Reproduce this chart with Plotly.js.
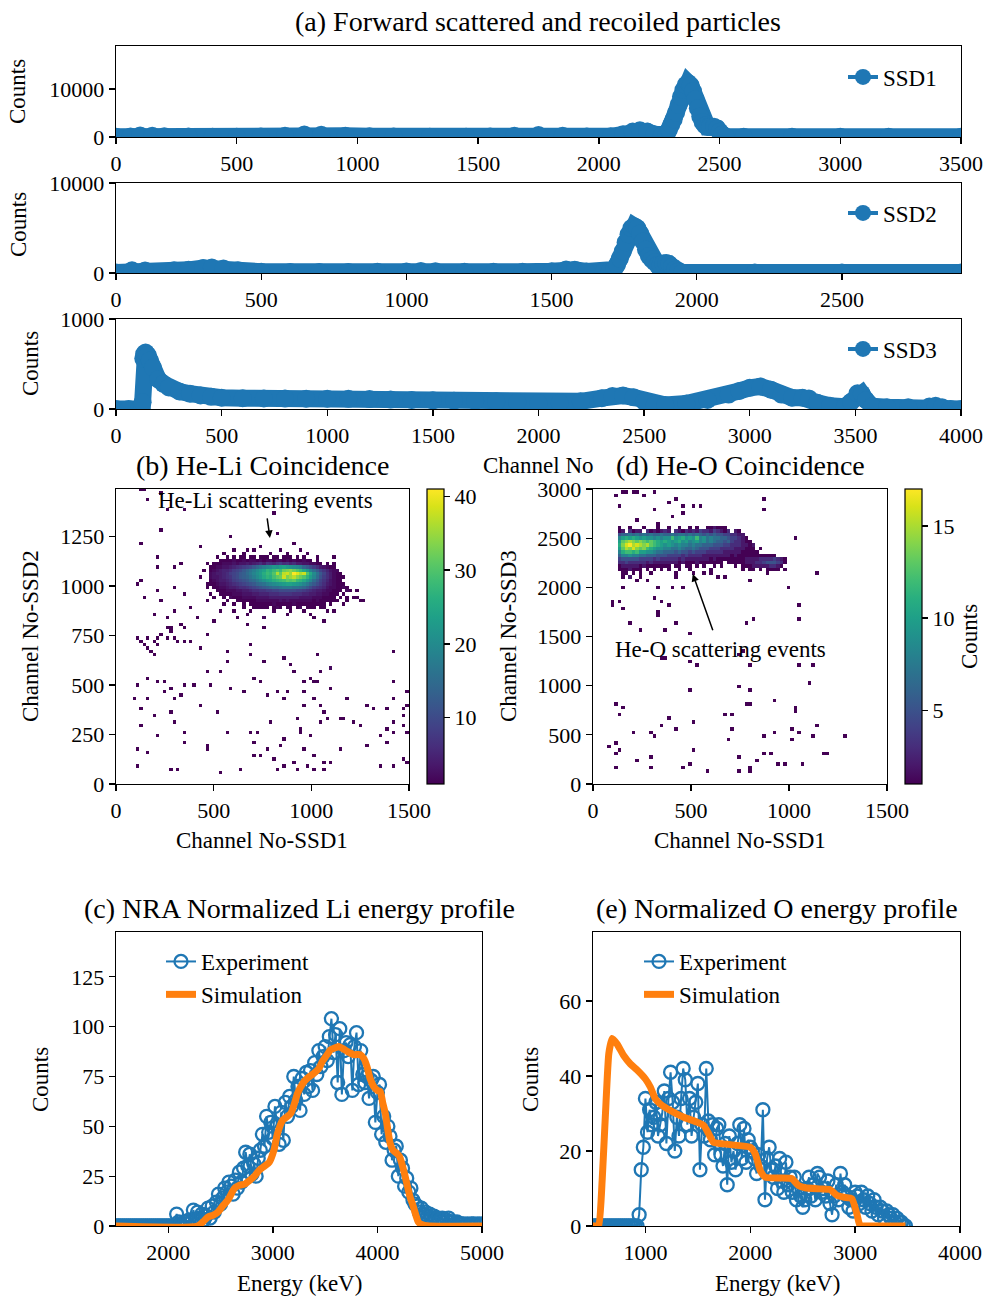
<!DOCTYPE html>
<html><head><meta charset="utf-8">
<script src="https://cdn.plot.ly/plotly-3.0.1.min.js"></script>
<style>body{margin:0;padding:0;background:#fff}#chart{width:990px;height:1296px}</style>
</head><body><div id="chart"></div>
<script>
// ---------- (a) spectra ----------
const ssd1Ch = [0,60,100,150,200,300,400,500,600,700,780,850,950,1050,1150,1300,1450,1550,1650,1750,1850,1950,2050,2100,2140,2170,2200,2230,2260,2280,2290,2300,2310,2320,2330,2340,2350,2360,2370,2380,2390,2400,2410,2420,2430,2440,2450,2460,2477,2490,2500,2510,2525,2600,2800,3000,3200,3500];
const ssd1Counts = [50,100,330,250,150,80,50,50,80,250,500,450,250,150,100,50,50,100,250,400,250,100,150,550,1150,1400,1150,550,250,500,1500,2600,3700,5100,6700,8400,9800,10900,11300,10800,9600,7900,6000,4300,3100,2400,2100,2100,2150,1800,1100,500,100,50,50,50,50,50];

const ssd2Ch = [0,40,55,100,200,250,300,330,370,420,500,600,700,800,900,1000,1050,1100,1200,1300,1400,1500,1550,1580,1620,1680,1700,1715,1725,1735,1745,1755,1765,1775,1785,1795,1805,1815,1825,1835,1845,1855,1865,1875,1885,1895,1905,1915,1925,1935,1950,2200,2500,2910];
const ssd2Counts = [50,50,300,280,300,350,550,600,500,300,150,100,110,110,130,180,230,200,150,130,150,200,400,350,170,150,170,400,900,1600,2400,3400,4300,5000,5200,5000,4400,3500,2600,1900,1500,1200,900,900,1050,1100,1000,700,350,150,50,50,50,50];

const ssd3Ch = [0,60,110,122,126,129,133,140,150,160,175,200,225,250,300,350,400,450,500,600,700,800,900,1000,1100,1200,1300,1400,1500,1600,1700,1800,1900,2000,2100,2200,2300,2350,2400,2450,2500,2550,2600,2700,2800,2900,2950,3000,3050,3100,3150,3200,3250,3280,3320,3380,3450,3480,3510,3530,3550,3580,3650,3750,3850,3880,3910,3950,4000];
const ssd3Counts = [0,0,0,0,75,560,610,627,600,540,460,330,280,240,195,170,150,135,125,120,118,116,115,115,113,110,105,100,96,93,90,85,75,64,68,85,120,145,150,130,85,50,45,60,100,160,200,235,250,215,160,125,125,118,70,35,25,80,175,170,100,30,20,20,27,35,20,0,0];

// ---------- (b) He-Li coincidence: dense cluster rows (bin 17 ch), top row y-bin 67, first column x-bin 28 ----------
const bBin = 17;
const bClusterTopRow = 67;
const bClusterFirstCol = 28;
const bClusterRows = [
[0,0,0,0,0,1,0,1,0,1,1,0,1,1,0,1,1,1,0,1,1,0,1,1,1,0,1,0,1,0,0,0,0,0,0,0,0,0,0,0,0,0],
[0,0,0,1,1,1,1,2,1,1,2,1,2,2,1,2,1,2,2,1,2,2,1,2,1,2,1,1,2,1,1,0,1,0,0,0,0,0,0,0,0,0],
[0,1,1,1,2,2,2,3,2,3,3,4,3,4,5,6,4,7,6,5,7,8,6,7,5,6,4,4,3,3,2,2,1,1,0,1,0,0,0,0,0,0],
[1,1,2,2,3,3,4,5,6,7,8,9,10,12,14,16,18,19,20,22,21,23,24,22,21,20,19,18,14,12,10,8,6,4,3,2,1,1,0,0,0,0],
[1,2,3,4,5,5,6,8,9,10,12,14,16,18,20,22,24,27,26,28,30,28,32,33,34,32,30,28,25,22,18,15,12,9,7,5,3,2,1,0,0,0],
[2,3,4,4,5,6,8,9,10,12,13,15,17,19,21,23,26,28,27,30,36,31,37,38,35,41,39,36,38,30,25,20,16,12,9,6,4,2,1,1,0,0],
[2,3,3,4,5,6,7,9,10,12,13,14,16,18,20,22,25,27,26,29,31,32,38,33,35,37,34,32,30,27,23,19,15,11,8,6,4,2,1,0,1,0],
[1,2,3,4,4,5,6,8,9,10,11,12,14,15,17,19,21,23,24,26,27,28,29,31,30,31,28,27,25,22,19,15,12,9,7,5,3,2,1,1,0,0],
[1,1,2,3,3,4,5,6,7,8,9,10,11,12,14,15,16,18,19,20,21,22,23,24,24,23,22,21,19,17,14,12,10,8,6,4,3,2,1,1,1,0],
[0,1,1,2,2,3,4,4,5,6,6,7,8,9,10,11,12,13,14,15,15,16,17,17,17,16,16,15,14,12,10,8,7,6,5,3,2,2,1,1,1,1],
[0,0,1,1,1,2,2,2,3,3,4,4,5,6,6,7,7,8,8,9,9,10,10,10,10,10,9,9,8,7,6,5,4,4,3,2,2,1,1,1,0,1],
[0,0,0,1,1,1,1,2,2,2,3,3,3,4,4,5,5,5,6,6,6,7,7,7,7,6,6,6,5,5,4,4,3,3,2,2,1,1,1,0,1,0],
[0,0,0,0,1,0,1,1,1,1,2,2,2,2,3,3,3,3,4,4,4,4,4,4,4,4,4,3,3,3,3,2,2,2,1,1,1,1,0,1,0,1],
[0,0,0,0,0,1,0,0,1,1,1,1,1,1,2,2,2,2,2,2,2,3,2,3,2,2,2,2,2,2,2,1,2,1,1,1,1,0,1,0,0,1],
[0,0,0,0,0,0,0,1,0,0,1,0,1,1,1,1,1,1,1,2,1,1,1,1,1,2,1,1,1,1,1,1,1,1,1,0,1,0,0,0,0,0],
[0,0,0,0,0,0,0,0,0,0,0,0,0,1,0,1,1,1,0,1,1,1,0,1,1,0,1,1,0,1,1,1,0,0,1,0,0,0,0,0,0,0]
];
// isolated events (channel SSD1, channel SSD2)
const bScatX = [127,148,161,229,263,340,234,127, 800,817,909,578,428,671,
217,216,297,331,110,127,144,212,294,345,234,297,187,263,272,323,374,416,467,501,532,586,628,671,756,764,671,
110,127,144,161,178,195,212,229,212,161,187,263,297,314,348,382,433,459,255,345,280,
569,696,696,574,535,459,756,858,892,909,1024,1104,1427,
85,110,153,161,212,246,238,280,297,340,331,391,433,484,578,650,713,739,781,832,858,875,963,994,1019,963,1007,1036,1053,1096,1180,1101,963,1045,1070,1079,1172,1313,1291,1418,1427,1495,1486,1384,
127,127,195,280,297,340,340,204,518,564,459,459,696,722,713,713,739,773,790,858,849,934,943,951,960,1002,1011,1053,1147,1155,1223,1257,1283,1350,1384,1418,1393,1427,1478,1486,1478,1469,
110,153,110,280,306,532,637,807,832,858,909,934,977,1011,1062,1070,1096,1350,1427,1478,1495,
1189,1215,1240,1249,1163,1113,875,1011,1062,764,943,1113,
560,610,650,700,735,790,845,880,940,985,1030,520,470,455,440,460,1120,1130,1150,1170,1200,1230,1260,1110,
560,600,650,690,730,800,830,900,960,1000,1050,1080,470,480,500];
const bScatY = [1482,1482,1443,1477,1384,1384,1278,1215, 1367,1266,1215,1257,1198,1185,
1139,1089,1089,1114,1013,1030,945,979,996,962,920,869,861,835,785,807,895,844,920,827,874,937,844,810,785,844,861,
743,726,709,692,675,658,743,760,709,743,726,743,743,726,717,717,692,760,785,793,768,
675,709,658,616,577,574,621,633,608,574,662,591,675,
439,498,540,439,523,523,473,481,439,506,456,498,397,498,481,473,540,515,456,473,439,473,523,540,523,473,430,515,565,489,439,582,392,405,363,338,338,388,405,439,515,473,405,388,
380,304,354,371,321,270,219,245,363,270,194,177,270,270,219,143,143,186,321,236,203,338,287,270,186,245,152,312,329,186,312,304,203,253,287,321,219,262,304,270,388,354,
186,169,101,68,84,54,84,127,68,93,110,84,101,68,110,68,110,101,101,127,110,
970,945,970,920,911,920,861,835,819,844,895,878,
1165,1180,1160,1175,1190,1170,1185,1160,1175,1165,1150,1150,1120,1080,1050,1010,1120,1080,1050,1000,985,950,930,1140,
905,880,890,870,885,875,895,870,880,860,890,870,1000,960,940];

// ---------- (d) He-O coincidence: cluster rows (bins 18 x 36 ch), top row y-bin 72, first column x-bin 7 ----------
const dBinX = 18, dBinY = 36;
const dClusterTopRow = 72;
const dClusterFirstCol = 7;
const dClusterRows = [
[1,0,0,1,0,0,0,1,0,0,0,1,0,0,1,0,0,1,0,0,1,0,1,0,0,1,1,2,1,1,1,0,0,0,0,0,0,0,0,0,0,0,0,0,0,0,0,0,0],
[1,2,0,3,1,2,2,0,3,1,2,1,2,3,2,0,3,2,1,3,2,3,2,4,3,3,2,4,3,2,1,2,0,1,1,0,0,0,0,0,0,0,0,0,0,0,0,0,0],
[5,6,6,7,6,7,6,7,6,7,6,6,7,6,6,7,6,7,7,6,7,6,7,6,5,6,5,6,5,5,4,4,3,3,2,1,0,0,0,0,0,0,0,0,0,0,0,0,0],
[8,10,11,10,11,10,9,10,9,9,8,9,8,9,9,12,9,10,11,9,10,9,12,8,9,7,8,7,7,6,6,5,4,4,3,2,1,0,0,0,0,0,0,0,0,0,0,0,0],
[10,13,14,15,14,13,14,13,12,13,12,11,10,11,10,9,10,11,9,10,8,9,10,8,9,7,8,7,6,6,5,5,4,3,3,2,1,1,0,0,0,0,0,0,0,0,0,0,0],
[11,14,16,17,15,16,15,14,15,13,12,11,10,9,10,9,8,9,8,8,7,8,7,7,6,6,6,5,5,5,4,4,3,3,3,2,2,1,1,0,0,0,0,0,0,0,0,0,0],
[10,13,15,14,16,14,13,14,12,11,10,9,9,8,8,7,7,8,7,6,6,7,6,5,5,5,4,4,4,3,3,3,3,2,2,2,1,1,1,0,0,0,0,0,0,0,0,0,0],
[8,11,12,12,11,12,10,10,9,9,8,7,7,6,6,6,5,6,5,5,4,5,4,4,4,3,3,3,3,3,2,2,2,2,2,1,1,1,1,1,0,0,0,0,0,0,0,0,0],
[6,8,8,9,8,8,7,7,6,6,6,5,5,5,4,4,4,4,3,4,3,3,3,3,2,2,2,2,2,2,2,2,1,2,1,1,1,1,1,1,1,1,1,1,1,0,0,0,0],
[4,5,5,5,5,5,4,4,4,4,3,4,3,3,3,3,3,2,3,2,2,2,2,2,2,2,1,2,1,1,1,1,1,1,1,1,2,2,2,2,3,3,3,3,4,3,2,1,0],
[3,3,4,3,3,3,3,3,2,3,2,2,2,2,2,2,2,1,2,1,1,1,2,1,1,1,1,1,1,1,0,1,1,1,1,1,2,2,2,3,3,4,5,5,5,4,3,1,0],
[1,2,2,2,2,2,1,2,1,1,1,1,1,1,1,0,1,1,0,1,1,0,1,0,1,0,0,1,0,1,0,0,0,1,0,1,1,1,2,2,2,2,2,3,3,2,1,0,0],
[1,1,1,1,1,1,1,0,1,0,1,0,1,0,1,0,0,1,0,0,1,0,0,0,0,0,1,0,0,0,0,0,0,0,0,1,0,1,1,0,1,0,1,1,1,1,0,1,0],
[0,1,1,0,1,0,1,0,0,1,0,0,0,0,0,0,1,0,0,0,0,0,0,0,0,0,0,0,0,0,0,0,0,0,0,0,0,0,0,0,0,0,0,0,0,0,0,0,0],
[0,1,0,1,0,0,0,0,0,0,0,0,0,0,0,0,0,0,0,0,0,0,0,0,0,0,0,0,0,0,0,0,0,0,0,0,0,0,0,0,0,0,0,0,0,0,0,0,0]
];
const dScatX = [114,148,173,199,224,262,310,128,306,386,429,454,505,548,412,459,233,879,879,1041,335,
156,182,224,276,327,412,454,97,97,131,145,310,352,395,327,335,190,250,369,429,488,777,820,1058,1058,
803,888,998,1151,667,633,565,514,
344,369,522,488,743,803,769,1058,1117,1100,488,743,803,777,803,709,667,922,1041,1032,1151,114,148,139,207,293,310,352,395,429,505,684,709,879,922,1015,1024,1058,1117,1279,
88,114,119,131,114,233,293,293,454,488,505,582,743,743,803,829,879,905,939,981,1075,1177,1202,803,
700,760,730,690,820,850,600,250,180,420];
const dScatY = [2939,2973,2973,2973,2956,2922,2956,2837,2793,2844,2888,2837,2837,2837,2718,2752,2684,2895,2776,2508,2643,
1988,2090,2073,2073,2005,2005,2005,1852,1801,1869,1767,1886,1852,1801,1716,1733,1631,1580,1580,1631,1546,1631,1665,1818,1665,
2073,2124,2005,2148,2107,2090,2141,2141,
1274,1274,1189,1257,1308,1223,1359,1223,1189,1036,951,1002,951,815,798,713,697,849,764,730,611,798,764,713,527,510,476,611,680,561,646,442,561,476,527,561,459,510,493,493,
374,425,289,340,170,221,255,170,170,204,340,129,279,136,170,221,306,289,204,204,204,289,323,119,
2560,2520,2590,2480,2420,2380,2150,2120,2160,2110];

// ---------- (c) Li energy profile ----------
const cExpStart = 1500, cExpStep = 20;
const cExpCounts = [
0,0,0,0,0,0,0,0,0,0, 0,0,0,0,0,0,0,0,0,0, 0,0,0,0,0,0,0,0,0,
6,2,1,0,2,1,3,2,8,3, 7,4,6,3,5,9,4,10,7,12, 16,11,14,19,17,22,20,16,23,19,
27,22,29,37,30,36,26,31,25,34, 38,46,40,55,47,52,44,60,50,41, 57,43,62,55,65,60,75,63,70,58,
74,66,77,70,78,68,82,76,88,80, 85,90,83,95,104,87,96,72,99,66, 88,92,85,91,68,90,97,71,88,76,
72,75,64,73,75,52,67,71,46,55, 42,50,45,33,38,40,25,33,29,20, 24,17,19,13,11,10,7,9,6,7,
5,6,4,5,3,4,3,4,2,3, 4,2,2,1,2,1,1, 1,0,1,0,1,1,0,1,0,1];
const cSimE = [1500,2280,2330,2380,2430,2475,2520,2570,2634,2680,2729,2780,2824,2870,2919,2966,3010,3045,3093,3140,3172,3210,3235,3299,3350,3394,3440,3473,3520,3552,3600,3631,3670,3711,3774,3837,3870,3900,3930,3964,4000,4027,4050,4075,4100,4122,4150,4186,4210,4233,4260,4281,4310,4344,4370,4391,4420,4450,4500,5000];
const cSimCounts = [0,0,2,4.5,5.5,7,10,13,19,20.5,21,23,25,28,30,32,38,46.5,53,55,56.5,62,66.4,72.5,75,76.7,79,82.5,86,88.4,89.5,90,89,87.6,86,86,84,80,74,70,68,67.5,62,56.5,48,41.4,38,36.4,35,31.4,26,21.3,15,9.6,5,2,0.8,0.3,0,0];

// ---------- (e) O energy profile ----------
const eExpStart = 500, eExpStep = 20;
const eExpCounts = [
0,0,0,0,0,0,0,0,0,0, 0,0,0,0,0,0,0,0,0,0, 0,0,
3,15,21,34,25,31,27,29,33,24, 27,30,36,22,34,41,33,20,29,24, 34,42,39,27,34,24,29,33,38,15,
27,24,42,28,23,27,19,26,27,19, 16,22,11,24,17,20,15,22,27,18, 26,17,23,21,20,18,14,19,16,31,
7,18,21,15,13,16,10,18,12,9, 17,11,13,9,13,7,10,8,5,7, 10,13,8,11,7,14,13,9,10,8,
12,6,3,8,11,7,14,9,11,8, 5,7,4,9,8,6,9,7,5,8, 6,4,7,5,3,5,4,2,4,3, 2,3,1,2,1,1,0,0];
const eSimE = [500,540,556,587,619,651,683,730,794,857,921,1000,1048,1095,1143,1238,1365,1492,1556,1603,1651,1746,1873,2000,2048,2095,2143,2286,2397,2460,2524,2667,2762,2825,2889,2968,3016,3048,3100,3480];
const eSimCounts = [0,0,0,12,30,46,50,48.5,45.4,43.2,41.6,39.2,37,33.9,32.5,30.8,29,27.7,26.8,24.6,22.3,21.9,21.5,21,19.2,14.8,13,12.8,12.6,10.8,10.2,9.9,9.7,8.2,7.7,7.3,3.3,0,0,0];

// ---------- tick values ----------
const a1XTicks = [0,500,1000,1500,2000,2500,3000,3500], a1YTicks = [0,10000];
const a2XTicks = [0,500,1000,1500,2000,2500], a2YTicks = [0,10000];
const a3XTicks = [0,500,1000,1500,2000,2500,3000,3500,4000], a3YTicks = [0,1000];
const bXTicks = [0,500,1000,1500], bYTicks = [0,250,500,750,1000,1250], bCbTicks = [10,20,30,40];
const dXTicks = [0,500,1000,1500], dYTicks = [0,500,1000,1500,2000,2500,3000], dCbTicks = [5,10,15];
const cXTicks = [2000,3000,4000,5000], cYTicks = [0,25,50,75,100,125];
const eXTicks = [1000,2000,3000,4000], eYTicks = [0,20,40,60];

// ================= build =================
const W = 990, H = 1296;
const FONT = 'Liberation Serif, Times New Roman, serif';
const BLUE = '#1f77b4', ORANGE = '#ff7f0e';
const fx = p => p / W, fy = p => 1 - p / H;

function axisBase(tickvals, range, anchor) {
  return {range, tickvals, anchor, showline:true, mirror:true, linecolor:'black', linewidth:1.3,
    ticks:'outside', ticklen:6, tickwidth:1.3, tickcolor:'black', showgrid:false, zeroline:false,
    tickformat:'d',
    tickfont:{family:FONT, size:22, color:'black'}, fixedrange:true};
}
function xax(l, r, range, tickvals, anchor) { return Object.assign(axisBase(tickvals, range, anchor), {domain:[fx(l), fx(r)]}); }
function yax(t, b, range, tickvals, anchor) { return Object.assign(axisBase(tickvals, range, anchor), {domain:[fy(b), fy(t)]}); }

function buildGrid(nx, ny, rows, topRow, firstCol, sx, sy, dx, dy) {
  const z = [];
  for (let j = 0; j < ny; j++) z.push(new Array(nx).fill(null));
  rows.forEach((row, r) => {
    const j = topRow - r;
    row.forEach((v, c) => { if (v > 0) z[j][firstCol + c] = v; });
  });
  sx.forEach((x, k) => {
    const i = Math.floor(x / dx), j = Math.floor(sy[k] / dy);
    if (i >= 0 && i < nx && j >= 0 && j < ny) z[j][i] = (z[j][i] || 0) + 1;
  });
  return z;
}

const bZ = buildGrid(Math.ceil(1500 / bBin), Math.ceil(1500 / bBin), bClusterRows, bClusterTopRow, bClusterFirstCol, bScatX, bScatY, bBin, bBin);
const dZ = buildGrid(Math.ceil(1500 / dBinX), Math.ceil(3000 / dBinY), dClusterRows, dClusterTopRow, dClusterFirstCol, dScatX, dScatY, dBinX, dBinY);

function spectrum(xs, ys, xa, ya) {
  return {type:'scatter', mode:'lines+markers', x:xs, y:ys, xaxis:xa, yaxis:ya,
    line:{color:BLUE, width:17}, marker:{color:BLUE, size:18}, showlegend:false, hoverinfo:'skip'};
}
function legendItem(name, xa, ya, lg) {
  return {type:'scatter', mode:'lines+markers', x:[null], y:[null], xaxis:xa, yaxis:ya, name,
    legend:lg, line:{color:BLUE, width:4}, marker:{color:BLUE, size:16}, hoverinfo:'skip'};
}

const cbCommon = {thickness:17, thicknessmode:'pixels', len:295 / H, lenmode:'fraction', y:fy(636.5), yanchor:'middle',
  xanchor:'left', outlinewidth:1.2, outlinecolor:'black', ticks:'outside', ticklen:6, tickwidth:1.3, tickcolor:'black',
  tickfont:{family:FONT, size:22, color:'black'}, xpad:0, ypad:0};

const traces = [
  spectrum(ssd1Ch, ssd1Counts, 'x', 'y'), legendItem('SSD1', 'x', 'y', 'legend'),
  spectrum(ssd2Ch, ssd2Counts, 'x2', 'y2'), legendItem('SSD2', 'x2', 'y2', 'legend2'),
  spectrum(ssd3Ch, ssd3Counts, 'x3', 'y3'), legendItem('SSD3', 'x3', 'y3', 'legend3'),
  {type:'heatmap', z:bZ, x0:bBin / 2, dx:bBin, y0:bBin / 2, dy:bBin, xaxis:'x4', yaxis:'y4',
    colorscale:'Viridis', zmin:1, zmax:41, zsmooth:false, hoverinfo:'skip',
    colorbar:Object.assign({}, cbCommon, {x:fx(427), tickvals:bCbTicks})},
  {type:'heatmap', z:dZ, x0:dBinX / 2, dx:dBinX, y0:dBinY / 2, dy:dBinY, xaxis:'x5', yaxis:'y5',
    colorscale:'Viridis', zmin:1, zmax:17, zsmooth:false, hoverinfo:'skip',
    colorbar:Object.assign({}, cbCommon, {x:fx(905), tickvals:dCbTicks,
      title:{text:'Counts', side:'right', font:{family:FONT, size:23, color:'black'}}})},
  {type:'scatter', mode:'lines+markers', x0:cExpStart, dx:cExpStep, y:cExpCounts, xaxis:'x6', yaxis:'y6', name:'Experiment', legend:'legend4',
    line:{color:BLUE, width:2}, marker:{symbol:'circle-open', size:13, color:BLUE, line:{width:2.3, color:BLUE}}, hoverinfo:'skip'},
  {type:'scatter', mode:'lines', x:cSimE, y:cSimCounts, xaxis:'x6', yaxis:'y6', name:'Simulation', legend:'legend4',
    line:{color:ORANGE, width:7, shape:'spline', smoothing:0.6}, hoverinfo:'skip'},
  {type:'scatter', mode:'lines+markers', x0:eExpStart, dx:eExpStep, y:eExpCounts, xaxis:'x7', yaxis:'y7', name:'Experiment', legend:'legend5',
    line:{color:BLUE, width:2}, marker:{symbol:'circle-open', size:13, color:BLUE, line:{width:2.3, color:BLUE}}, hoverinfo:'skip'},
  {type:'scatter', mode:'lines', x:eSimE, y:eSimCounts, xaxis:'x7', yaxis:'y7', name:'Simulation', legend:'legend5',
    line:{color:ORANGE, width:7, shape:'spline', smoothing:0.5}, hoverinfo:'skip'}
];

function ann(text, px, py, size, angle) {
  return {xref:'paper', yref:'paper', x:fx(px), y:fy(py), xanchor:'center', yanchor:'middle', text, showarrow:false,
    textangle:angle || 0, font:{family:FONT, size:size, color:'black'}};
}
const legendCommon = {bgcolor:'rgba(0,0,0,0)', borderwidth:0, font:{family:FONT, size:23, color:'black'}, xanchor:'left'};

const layout = {
  width:W, height:H, margin:{l:0, r:0, t:0, b:0}, paper_bgcolor:'white', plot_bgcolor:'white', hovermode:false,
  xaxis: xax(116, 961, [0, 3500], a1XTicks, 'y'),   yaxis: yax(46, 137, [0, 19000], a1YTicks, 'x'),
  xaxis2:xax(116, 961, [0, 2910], a2XTicks, 'y2'),  yaxis2:yax(183, 273, [0, 10000], a2YTicks, 'x2'),
  xaxis3:xax(116, 961, [0, 4000], a3XTicks, 'y3'),  yaxis3:yax(319, 409, [0, 1000], a3YTicks, 'x3'),
  xaxis4:xax(116, 409, [0, 1500], bXTicks, 'y4'),   yaxis4:yax(489, 784, [0, 1490], bYTicks, 'x4'),
  xaxis5:xax(593, 887, [0, 1500], dXTicks, 'y5'),   yaxis5:yax(489, 784, [0, 3000], dYTicks, 'x5'),
  xaxis6:xax(116, 482, [1500, 5000], cXTicks, 'y6'), yaxis6:yax(932, 1226, [0, 147.5], cYTicks, 'x6'),
  xaxis7:xax(593, 960, [500, 4000], eXTicks, 'y7'), yaxis7:yax(932, 1226, [0, 78.4], eYTicks, 'x7'),
  legend: Object.assign({}, legendCommon, {x:fx(843), y:fy(77), yanchor:'middle'}),
  legend2:Object.assign({}, legendCommon, {x:fx(843), y:fy(213), yanchor:'middle'}),
  legend3:Object.assign({}, legendCommon, {x:fx(843), y:fy(349), yanchor:'middle'}),
  legend4:Object.assign({}, legendCommon, {x:fx(161), y:fy(940), yanchor:'top'}),
  legend5:Object.assign({}, legendCommon, {x:fx(639), y:fy(940), yanchor:'top'}),
  annotations:[
    ann('(a) Forward scattered and recoiled particles', 538, 22, 28),
    ann('Counts', 18, 92, 23, -90),
    ann('Counts', 18, 225, 23, -90),
    ann('Counts', 30, 364, 23, -90),
    ann('Channel No', 538, 466, 23),
    ann('(b) He-Li Coincidence', 262, 466, 28),
    ann('(d) He-O Coincidence', 740, 466, 28),
    ann('Channel No-SSD2', 30, 636, 23, -90),
    ann('Channel No-SSD3', 508, 636, 23, -90),
    ann('Channel No-SSD1', 262, 840, 23),
    ann('Channel No-SSD1', 740, 840, 23),
    ann('(c) NRA Normalized Li energy profile', 299, 909, 28),
    ann('(e) Normalized O energy profile', 777, 909, 28),
    ann('Counts', 40, 1080, 23, -90),
    ann('Counts', 530, 1080, 23, -90),
    ann('Energy (keV)', 299, 1283, 23),
    ann('Energy (keV)', 777, 1283, 23),
    {xref:'x4', yref:'y4', x:763, y:1434, text:'He-Li scattering events', showarrow:false, xanchor:'center', yanchor:'middle',
      font:{family:FONT, size:23, color:'black'}},
    {xref:'x4', yref:'y4', x:788, y:1243, axref:'x4', ayref:'y4', ax:773, ay:1349, text:'', showarrow:true,
      arrowhead:2, arrowsize:1, arrowwidth:1.5, arrowcolor:'black'},
    {xref:'x5', yref:'y5', x:648, y:1363, text:'He-O scattering events', showarrow:false, xanchor:'center', yanchor:'middle',
      font:{family:FONT, size:23, color:'black'}},
    {xref:'x5', yref:'y5', x:509, y:2136, axref:'x5', ayref:'y5', ax:614, ay:1549, text:'', showarrow:true,
      arrowhead:2, arrowsize:1, arrowwidth:1.5, arrowcolor:'black'}
  ]
};

Plotly.newPlot('chart', traces, layout, {displayModeBar:false, staticPlot:true});
</script></body></html>
